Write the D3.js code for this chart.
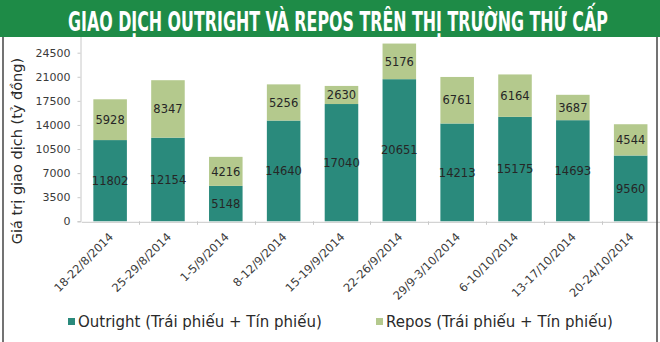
<!DOCTYPE html>
<html>
<head>
<meta charset="utf-8">
<script src="https://cdn.jsdelivr.net/npm/d3@7"></script>
<style>
  html, body { margin: 0; padding: 0; background: #fff; }
  svg { display: block; }
</style>
</head>
<body>
<svg id="chart" width="660" height="342"></svg>
<script>
// Weekly trading values on the secondary bond market (billion VND)
const weeks = ["18-22/8/2014", "25-29/8/2014", "1-5/9/2014", "8-12/9/2014", "15-19/9/2014",
               "22-26/9/2014", "29/9-3/10/2014", "6-10/10/2014", "13-17/10/2014", "20-24/10/2014"];
const outright = [11802, 12154, 5148, 14640, 17040, 20651, 14213, 15175, 14693, 9560];
const repos    = [5928, 8347, 4216, 5256, 2630, 5176, 6761, 6164, 3687, 4544];
const yTicks   = [0, 3500, 7000, 10500, 14000, 17500, 21000, 24500];
const seriesNames = ["Outright (Trái phiếu + Tín phiếu)", "Repos (Trái phiếu + Tín phiếu)"];
const colors = ["#2a8a7c", "#b4c98d"];

const svg = d3.select("#chart");
const W = 660, H = 342;

svg.append("rect").attr("width", W).attr("height", H).attr("fill", "#fff");

const x = d3.scaleBand().domain(weeks).range([81.2, 659.6]).paddingInner(0.42).paddingOuter(0.21);
const y = d3.scaleLinear().domain([0, 28000]).range([221.3, 28.6]);

// stacked layout
const rows = weeks.map((w, i) => ({ week: w, outright: outright[i], repos: repos[i] }));
const stack = d3.stack().keys(["outright", "repos"])(rows);

const g = svg.append("g");

// y axis
const yAxis = g.append("g").attr("transform", "translate(80.5,0)")
  .call(d3.axisLeft(y).tickValues(yTicks).tickSize(3).tickPadding(7).tickFormat(d3.format("d")));
yAxis.select(".domain").attr("stroke", "#c8c8c8");
yAxis.selectAll(".tick line").attr("stroke", "#c8c8c8");
yAxis.selectAll(".tick text").attr("fill", "#3a3a3a")
  .style("font-family", "'DejaVu Sans', Verdana, sans-serif").style("font-size", "11px");

// bars
stack.forEach((layer, k) => {
  g.append("g").selectAll("rect").data(layer).join("rect")
    .attr("x", d => x(d.data.week))
    .attr("width", x.bandwidth())
    .attr("y", d => y(d[1]))
    .attr("height", d => y(d[0]) - y(d[1]))
    .attr("fill", colors[k]);
});

// value labels centred in each segment
stack.forEach((layer, k) => {
  g.append("g").selectAll("text").data(layer).join("text")
    .attr("x", d => x(d.data.week) + x.bandwidth() / 2)
    .attr("y", d => (y(d[0]) + y(d[1])) / 2)
    .attr("dy", "0.36em")
    .attr("text-anchor", "middle")
    .attr("fill", "#262626")
    .style("font-family", "'DejaVu Sans', Verdana, sans-serif")
    .style("font-size", "11.5px")
    .text(d => d[1] - d[0]);
});

// x axis
const xAxis = g.append("g").attr("transform", `translate(0,${y(0) + 0.5})`)
  .call(d3.axisBottom(x).tickSize(0).tickFormat(d => d));
xAxis.select(".domain").attr("stroke", "#c8c8c8");
xAxis.selectAll(".tick text")
  .attr("fill", "#3a3a3a")
  .style("font-family", "'DejaVu Sans', Verdana, sans-serif").style("font-size", "11.5px")
  .attr("text-anchor", "end")
  .attr("transform", "translate(1,13) rotate(-45)")
  .attr("y", 0).attr("dy", "0.35em");
// category separator ticks
const step = x.step();
g.append("g").selectAll("line").data(weeks.slice(1)).join("line")
  .attr("x1", d => Math.round(x(d) - x.paddingInner() * step / 2) + 0.5)
  .attr("x2", d => Math.round(x(d) - x.paddingInner() * step / 2) + 0.5)
  .attr("y1", y(0)).attr("y2", y(0) + 3.5)
  .attr("stroke", "#c8c8c8");

// y axis title
svg.append("text")
  .attr("transform", "translate(22,151) rotate(-90)")
  .attr("text-anchor", "middle")
  .attr("fill", "#2a2a2a")
  .style("font-family", "'DejaVu Sans', Verdana, sans-serif")
  .style("font-size", "14.5px")
  .text("Giá trị giao dịch (tỷ đồng)");

// legend
const legendX = [68, 376];
seriesNames.forEach((name, k) => {
  const lg = svg.append("g").attr("transform", `translate(${legendX[k]},322)`);
  lg.append("rect").attr("x", 0).attr("y", -4).attr("width", 7).attr("height", 7).attr("fill", colors[k]);
  lg.append("text").attr("x", 10).attr("y", 0).attr("dy", "0.35em")
    .attr("fill", "#2a2a2a")
    .style("font-family", "'DejaVu Sans', Verdana, sans-serif").style("font-size", "15px")
    .text(name);
});

// frame
svg.append("line").attr("x1", 3).attr("x2", 3).attr("y1", 36).attr("y2", H).attr("stroke", "#444").attr("stroke-width", 1.5);
svg.append("line").attr("x1", 657).attr("x2", 657).attr("y1", 36).attr("y2", H).attr("stroke", "#444").attr("stroke-width", 1.5);

// banner with a condensed heading (tall glyphs squeezed horizontally)
svg.append("rect").attr("x", 0).attr("y", 0).attr("width", W).attr("height", 37).attr("fill", "#1e8b47");
const titleG = svg.append("g");
const title = titleG.append("text")
  .attr("x", 0).attr("y", 0)
  .attr("fill", "#fff")
  .style("font-family", "'DejaVu Sans Condensed', 'DejaVu Sans', sans-serif")
  .style("font-weight", "bold").style("font-size", "26px")
  .text("GIAO DỊCH OUTRIGHT VÀ REPOS TRÊN THỊ TRƯỜNG THỨ CẤP");
const tw = title.node().getComputedTextLength();
const sx = tw > 0 ? 540 / tw : 1;
titleG.attr("transform", `translate(68,31) scale(${sx.toFixed(4)},1)`);
</script>
</body>
</html>
